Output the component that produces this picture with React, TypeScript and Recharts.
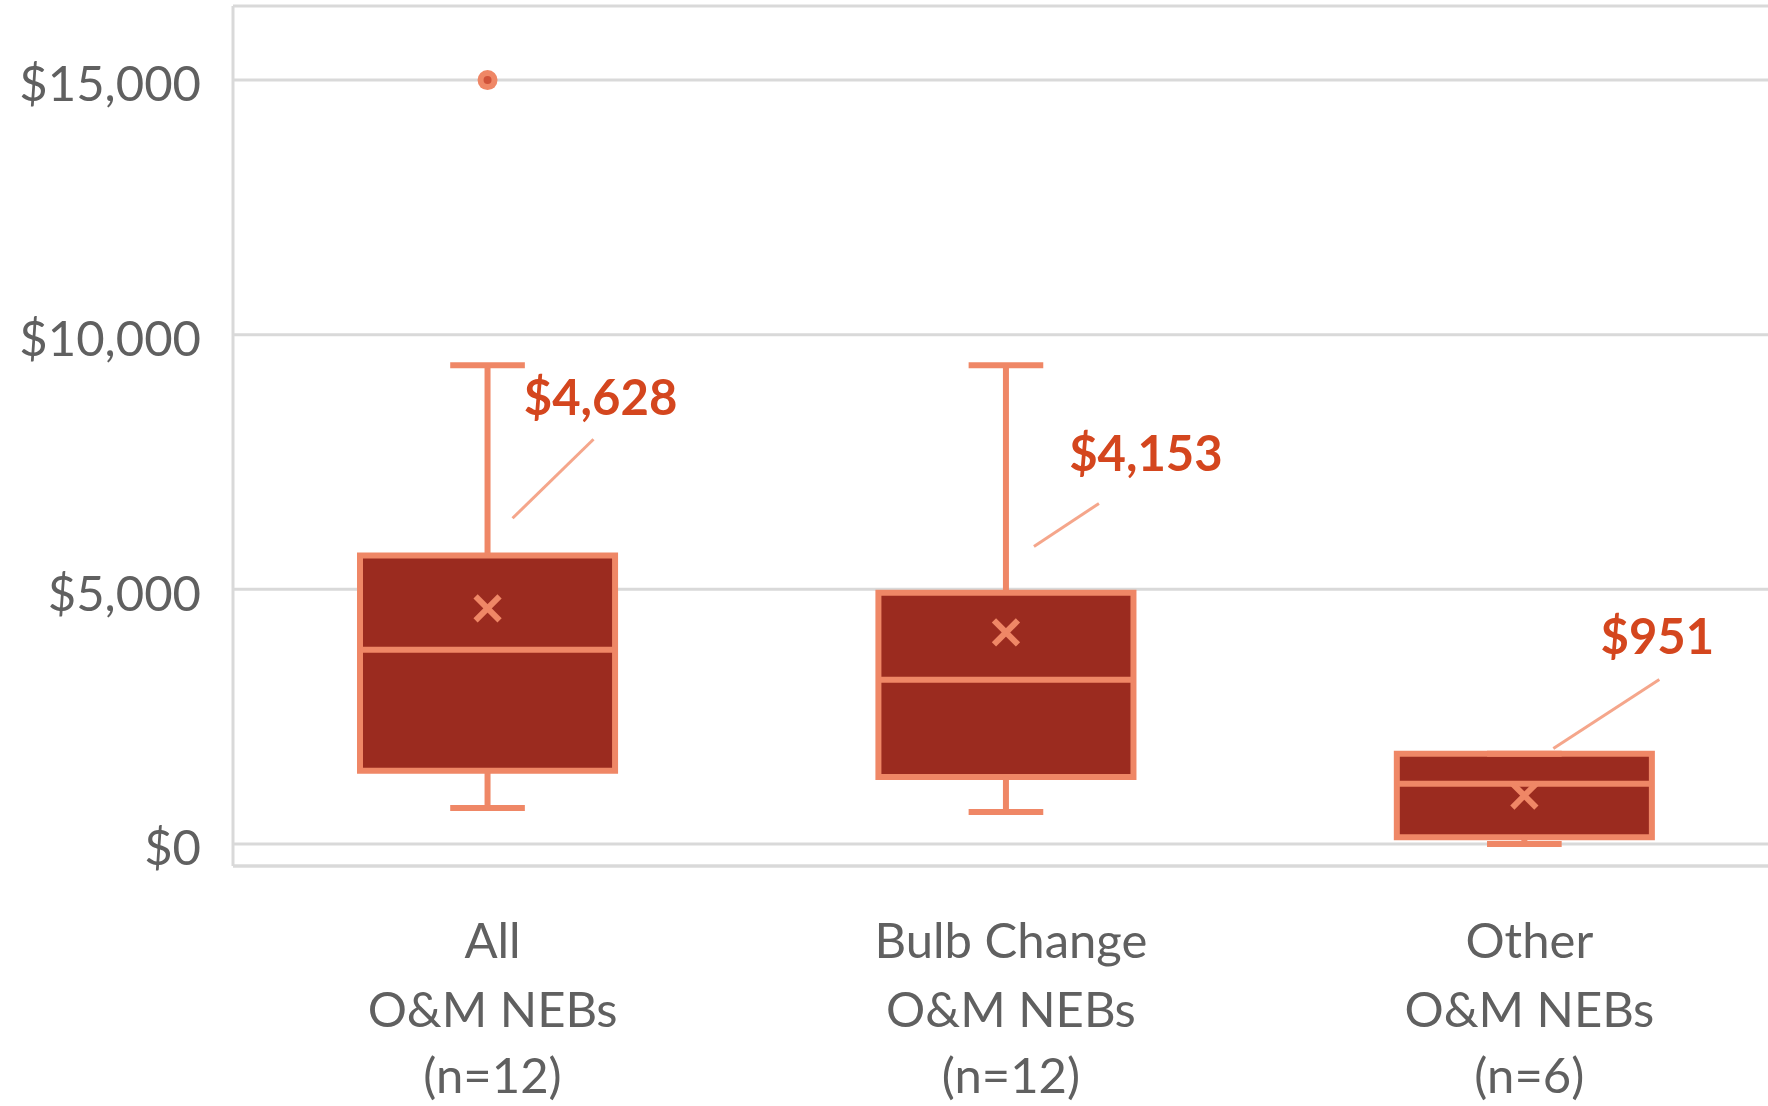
import React from 'react';
import {
  ComposedChart,
  XAxis,
  YAxis,
  CartesianGrid,
  Scatter,
  ReferenceArea,
  ReferenceLine,
} from 'recharts';

// ---- data ----
const categoryNames = ['All', 'Bulb Change', 'Other'];
const groupLabel = 'O&M NEBs';
const sampleSizes = [12, 12, 6];
const whiskerMin = [708, 629, 0];
const q1 = [1435, 1317, 130];
const median = [3814, 3225, 1180];
const q3 = [5663, 4935, 1770];
const whiskerMax = [9398, 9398, 1770];
const means = [4628, 4153, 951];
const outlierGroups = [0];
const outlierValues = [15000];
const yTicks = [0, 5000, 10000, 15000];

// ---- layout / style ----
const W = 1768;
const H = 1106;
const BOX_HALF = 0.246;
const CAP_HALF = 0.072;
const FILL = '#9B2B1F';
const STROKE = '#EF8766';
const LEADER = '#F5A68B';
const LABEL = '#D4461E';
const AXIS_TEXT = '#606060';
const GRID = '#D9D9D9';
const FONT = 49;

// label / leader offsets in pixels relative to the mean marker
const labelLayout = [
  { tx: 113, ty: -212, ax: 25, ay: -90, bx: 106, by: -169 },
  { tx: 140, ty: -180, ax: 28, ay: -86, bx: 93, by: -129 },
  { tx: 133, ty: -161, ax: 29, ay: -47, bx: 135, by: -116 },
];
const tickLineOffsets = [73, 142, 208];

const fmt = (v: number) => '$' + v.toLocaleString('en-US');

const meanData = means.map((v, i) => ({ x: i, y: v, group: i }));
const outlierData = outlierGroups.map((g, i) => ({ x: g, y: outlierValues[i] }));

const MeanShape = (props: any) => {
  const { cx, cy, payload } = props;
  const o = labelLayout[payload.group];
  const a = 12;
  return (
    <g>
      <line x1={cx - a} y1={cy - a} x2={cx + a} y2={cy + a} stroke={STROKE} strokeWidth={6} />
      <line x1={cx - a} y1={cy + a} x2={cx + a} y2={cy - a} stroke={STROKE} strokeWidth={6} />
      <line x1={cx + o.ax} y1={cy + o.ay} x2={cx + o.bx} y2={cy + o.by} stroke={LEADER} strokeWidth={3} />
      <text
        x={cx + o.tx}
        y={cy + o.ty}
        textAnchor="middle"
        dominantBaseline="central"
        fill={LABEL}
        fontSize={FONT}
        fontWeight="bold"
      >
        {fmt(payload.y)}
      </text>
    </g>
  );
};

const OutlierShape = (props: any) => {
  const { cx, cy } = props;
  return (
    <g>
      <circle cx={cx} cy={cy} r={10} fill={STROKE} />
      <circle cx={cx} cy={cy} r={4} fill="#D0533A" />
    </g>
  );
};

const CategoryTick = (props: any) => {
  const { x, y, payload } = props;
  const i = payload.value as number;
  const lines = [categoryNames[i], groupLabel, `(n=${sampleSizes[i]})`];
  return (
    <g>
      {lines.map((t, k) => (
        <text
          key={k}
          x={x + 5}
          y={y + tickLineOffsets[k]}
          textAnchor="middle"
          dominantBaseline="central"
          fill={AXIS_TEXT}
          fontSize={FONT}
        >
          {t}
        </text>
      ))}
    </g>
  );
};

export default function App() {
  return (
    <div style={{ position: 'absolute', left: 0, top: 0, fontFamily: 'Lato', background: '#fff' }}>
      <ComposedChart width={W} height={H} margin={{ top: 6, right: 0, bottom: 0, left: 0 }}>
        <CartesianGrid vertical={false} stroke={GRID} strokeWidth={3} />
        <XAxis
          dataKey="x"
          type="number"
          domain={[-0.491, 2.47]}
          allowDataOverflow
          ticks={[0, 1, 2]}
          tick={<CategoryTick />}
          tickLine={false}
          tickSize={0}
          tickMargin={0}
          height={240}
          axisLine={{ stroke: GRID, strokeWidth: 3 }}
        />
        <YAxis
          dataKey="y"
          type="number"
          domain={[-433, 16455]}
          allowDataOverflow
          ticks={yTicks}
          tickFormatter={fmt}
          tick={{ fill: AXIS_TEXT, fontSize: FONT, dy: 4 }}
          tickLine={false}
          tickSize={0}
          tickMargin={32}
          width={233}
          axisLine={{ stroke: GRID, strokeWidth: 3 }}
        />
        {categoryNames.map((_, i) => (
          <ReferenceLine
            key={'wu' + i}
            segment={[{ x: i, y: q3[i] }, { x: i, y: whiskerMax[i] }]}
            stroke={STROKE}
            strokeWidth={6}
          />
        ))}
        {categoryNames.map((_, i) => (
          <ReferenceLine
            key={'wl' + i}
            segment={[{ x: i, y: whiskerMin[i] }, { x: i, y: q1[i] }]}
            stroke={STROKE}
            strokeWidth={6}
          />
        ))}
        {categoryNames.map((_, i) => (
          <ReferenceLine
            key={'cu' + i}
            segment={[{ x: i - CAP_HALF, y: whiskerMax[i] }, { x: i + CAP_HALF, y: whiskerMax[i] }]}
            stroke={STROKE}
            strokeWidth={6}
          />
        ))}
        {categoryNames.map((_, i) => (
          <ReferenceLine
            key={'cl' + i}
            segment={[{ x: i - CAP_HALF, y: whiskerMin[i] }, { x: i + CAP_HALF, y: whiskerMin[i] }]}
            stroke={STROKE}
            strokeWidth={6}
          />
        ))}
        {categoryNames.map((_, i) => (
          <ReferenceArea
            key={'b' + i}
            x1={i - BOX_HALF}
            x2={i + BOX_HALF}
            y1={q1[i]}
            y2={q3[i]}
            fill={FILL}
            fillOpacity={1}
            stroke={STROKE}
            strokeWidth={6}
          />
        ))}
        {categoryNames.map((_, i) => (
          <ReferenceLine
            key={'m' + i}
            segment={[{ x: i - BOX_HALF, y: median[i] }, { x: i + BOX_HALF, y: median[i] }]}
            stroke={STROKE}
            strokeWidth={6}
          />
        ))}
        <Scatter data={outlierData} shape={<OutlierShape />} isAnimationActive={false} />
        <Scatter data={meanData} shape={<MeanShape />} isAnimationActive={false} />
      </ComposedChart>
    </div>
  );
}
